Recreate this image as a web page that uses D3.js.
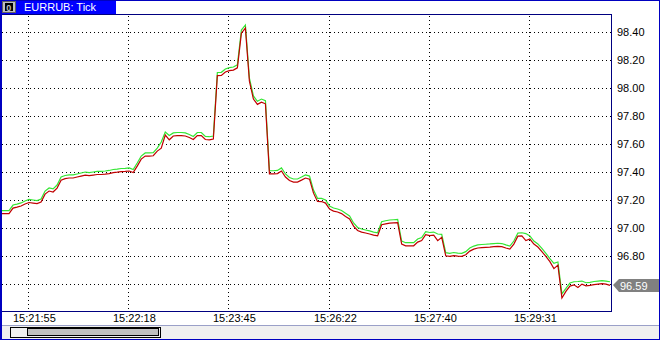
<!DOCTYPE html>
<html lang="en">
<head>
<meta charset="UTF-8">
<title>EURRUB: Tick</title>
<script src="https://cdn.jsdelivr.net/npm/d3@7/dist/d3.min.js"></script>
<style>
body{margin:0;background:#fff;}
text{font-family:"Liberation Sans",Arial,sans-serif;}
</style>
</head>
<body>
<script type="text/javascript">
var symbol = "EURRUB: Tick";
// ask (green) and bid (red), one sample every few ticks
var ask = [97.124,97.124,97.124,97.164,97.171,97.179,97.193,97.204,97.200,97.196,
97.207,97.264,97.286,97.279,97.307,97.364,97.375,97.379,97.379,97.386,
97.393,97.400,97.396,97.400,97.404,97.404,97.407,97.411,97.418,97.421,
97.425,97.426,97.429,97.418,97.464,97.514,97.536,97.536,97.538,97.571,
97.614,97.686,97.661,97.679,97.682,97.682,97.679,97.668,97.654,97.682,
97.682,97.654,97.652,97.657,98.111,98.112,98.136,98.146,98.150,98.166,
98.414,98.450,98.071,97.943,97.905,97.921,97.909,97.409,97.409,97.411,
97.429,97.386,97.361,97.350,97.350,97.364,97.379,97.371,97.271,97.212,
97.211,97.200,97.157,97.143,97.136,97.125,97.105,97.086,97.036,97.004,
96.993,96.986,96.979,96.971,96.966,97.045,97.052,97.057,97.059,97.061,
96.907,96.895,96.895,96.895,96.921,96.932,96.974,96.968,96.971,96.957,
96.955,96.824,96.819,96.825,96.821,96.819,96.831,96.857,96.871,96.879,
96.882,96.884,96.886,96.889,96.891,96.889,96.879,96.871,96.907,96.964,
96.966,96.960,96.943,96.907,96.886,96.854,96.819,96.782,96.748,96.757,
96.529,96.569,96.607,96.616,96.618,96.621,96.609,96.612,96.618,96.621,
96.624,96.621,96.616];
var bid = [97.102,97.102,97.102,97.142,97.149,97.157,97.171,97.182,97.178,97.174,
97.185,97.242,97.264,97.257,97.285,97.342,97.353,97.357,97.357,97.364,
97.371,97.378,97.374,97.378,97.382,97.382,97.385,97.389,97.396,97.399,
97.403,97.404,97.407,97.396,97.442,97.492,97.514,97.514,97.516,97.549,
97.570,97.664,97.630,97.657,97.660,97.660,97.657,97.646,97.632,97.660,
97.660,97.632,97.630,97.635,98.089,98.090,98.114,98.124,98.128,98.144,
98.392,98.428,98.049,97.921,97.883,97.899,97.887,97.387,97.387,97.389,
97.407,97.364,97.339,97.328,97.328,97.342,97.357,97.349,97.249,97.190,
97.189,97.178,97.135,97.121,97.114,97.103,97.083,97.064,97.014,96.982,
96.971,96.964,96.957,96.949,96.944,97.023,97.030,97.035,97.037,97.039,
96.885,96.873,96.873,96.873,96.899,96.910,96.952,96.946,96.949,96.910,
96.933,96.802,96.797,96.803,96.799,96.797,96.809,96.835,96.849,96.857,
96.860,96.862,96.864,96.867,96.869,96.867,96.857,96.849,96.885,96.942,
96.944,96.910,96.921,96.885,96.864,96.832,96.797,96.760,96.710,96.735,
96.500,96.547,96.585,96.594,96.575,96.599,96.587,96.590,96.596,96.599,
96.602,96.599,96.590];
var priceTicks = [96.60,96.80,97.00,97.20,97.40,97.60,97.80,98.00,98.20,98.40];
var timeLabels = ["15:21:55","15:22:18","15:23:45","15:26:22","15:27:40","15:29:31"];
var timeIdx = [6.75,31.75,56.75,81.75,106.75,131.75]; // sample index of each time grid line
var lastBid = 96.59;

var width = 660, height = 340;
var plot = {left:0, top:14, right:611, bottom:311};

var svg = d3.select("body").append("svg").attr("width",width).attr("height",height);

var xScale = d3.scaleLinear().domain([0, ask.length-1]).range([1, 610]);
var yScale = d3.scaleLinear().domain([96.60, 98.40]).range([284, 32]);

// bottom scroll area
svg.append("rect").attr("x",0).attr("y",325).attr("width",width).attr("height",15).attr("fill","#f0f0f0");
svg.append("line").attr("x1",0).attr("x2",width).attr("y1",325.5).attr("y2",325.5).attr("stroke","#9aa0c8");
svg.append("rect").attr("x",10.5).attr("y",327.5).attr("width",150).attr("height",10)
	.attr("fill","#f0f0f0").attr("stroke","#000");
svg.append("rect").attr("x",27.5).attr("y",328.5).attr("width",131).attr("height",7)
	.attr("fill","#c0c0c0").attr("stroke","#000");

// grid
var grid = svg.append("g").attr("stroke","#000").attr("stroke-dasharray","1,3").attr("shape-rendering","crispEdges");
grid.selectAll("line.h").data(priceTicks).enter().append("line")
	.attr("x1",plot.left+2).attr("x2",plot.right)
	.attr("y1",function(d){return Math.round(yScale(d))+0.5;})
	.attr("y2",function(d){return Math.round(yScale(d))+0.5;});
grid.selectAll("line.v").data(timeIdx).enter().append("line")
	.attr("y1",plot.top+2).attr("y2",plot.bottom)
	.attr("x1",function(d){return Math.round(xScale(d))+0.5;})
	.attr("x2",function(d){return Math.round(xScale(d))+0.5;});

// price lines
var line = function(data){
	return d3.line().x(function(d,i){return xScale(i);}).y(function(d){return yScale(d);})(data);
};
svg.append("path").attr("d",line(ask)).attr("fill","none").attr("stroke","#33e633").attr("stroke-width",1.2);
svg.append("path").attr("d",line(bid)).attr("fill","none").attr("stroke","#c00000").attr("stroke-width",1.2);

// plot border
svg.append("rect").attr("x",plot.left+0.5).attr("y",plot.top+0.5)
	.attr("width",plot.right-plot.left).attr("height",plot.bottom-plot.top)
	.attr("fill","none").attr("stroke","#000080").attr("shape-rendering","crispEdges");

// price axis labels (the one under the last price marker is hidden)
var ly = Math.round(yScale(lastBid));
svg.selectAll("text.p").data(priceTicks.filter(function(d){return Math.abs(yScale(d)-ly) > 12;}))
	.enter().append("text")
	.attr("x",617).attr("y",function(d){return yScale(d)+4;})
	.attr("font-size","11px").attr("fill","#000")
	.text(function(d){return d.toFixed(2);});

// time labels
svg.selectAll("text.t").data(timeLabels).enter().append("text")
	.attr("x",function(d,i){return Math.round(xScale(timeIdx[i]))-15;})
	.attr("y",322).attr("font-size","11px").attr("fill","#000")
	.text(function(d){return d;});

// last price marker
svg.append("path")
	.attr("d","M613,"+ly+"L619,"+(ly-6)+"L660,"+(ly-6)+"L660,"+(ly+7)+"L619,"+(ly+7)+"Z")
	.attr("fill","#808080");
svg.append("text").attr("x",620).attr("y",ly+5).attr("font-size","11px").attr("fill","#fff").text(lastBid.toFixed(2));

// title tab
svg.append("rect").attr("x",0).attr("y",0).attr("width",116).attr("height",14).attr("fill","#0000ff");
svg.append("rect").attr("x",2.5).attr("y",1.5).attr("width",13).attr("height",11).attr("fill","#c0c0c0").attr("stroke","#606060");
svg.append("rect").attr("x",5).attr("y",3).attr("width",8).attr("height",8).attr("fill","#000");
svg.append("text").attr("x",6.2).attr("y",10.5).attr("font-size","9px").attr("font-weight","bold").attr("fill","#c0c0c0").text("0");
svg.append("text").attr("x",24).attr("y",11).attr("font-size","11px").attr("fill","#fff").text(symbol);

// outer frame
svg.append("rect").attr("x",0.5).attr("y",0.5).attr("width",width-1).attr("height",height-1)
	.attr("fill","none").attr("stroke","#0000c0").attr("shape-rendering","crispEdges");
svg.append("line").attr("x1",1.5).attr("x2",1.5).attr("y1",0).attr("y2",height).attr("stroke","#0000c0");
</script>
</body>
</html>
